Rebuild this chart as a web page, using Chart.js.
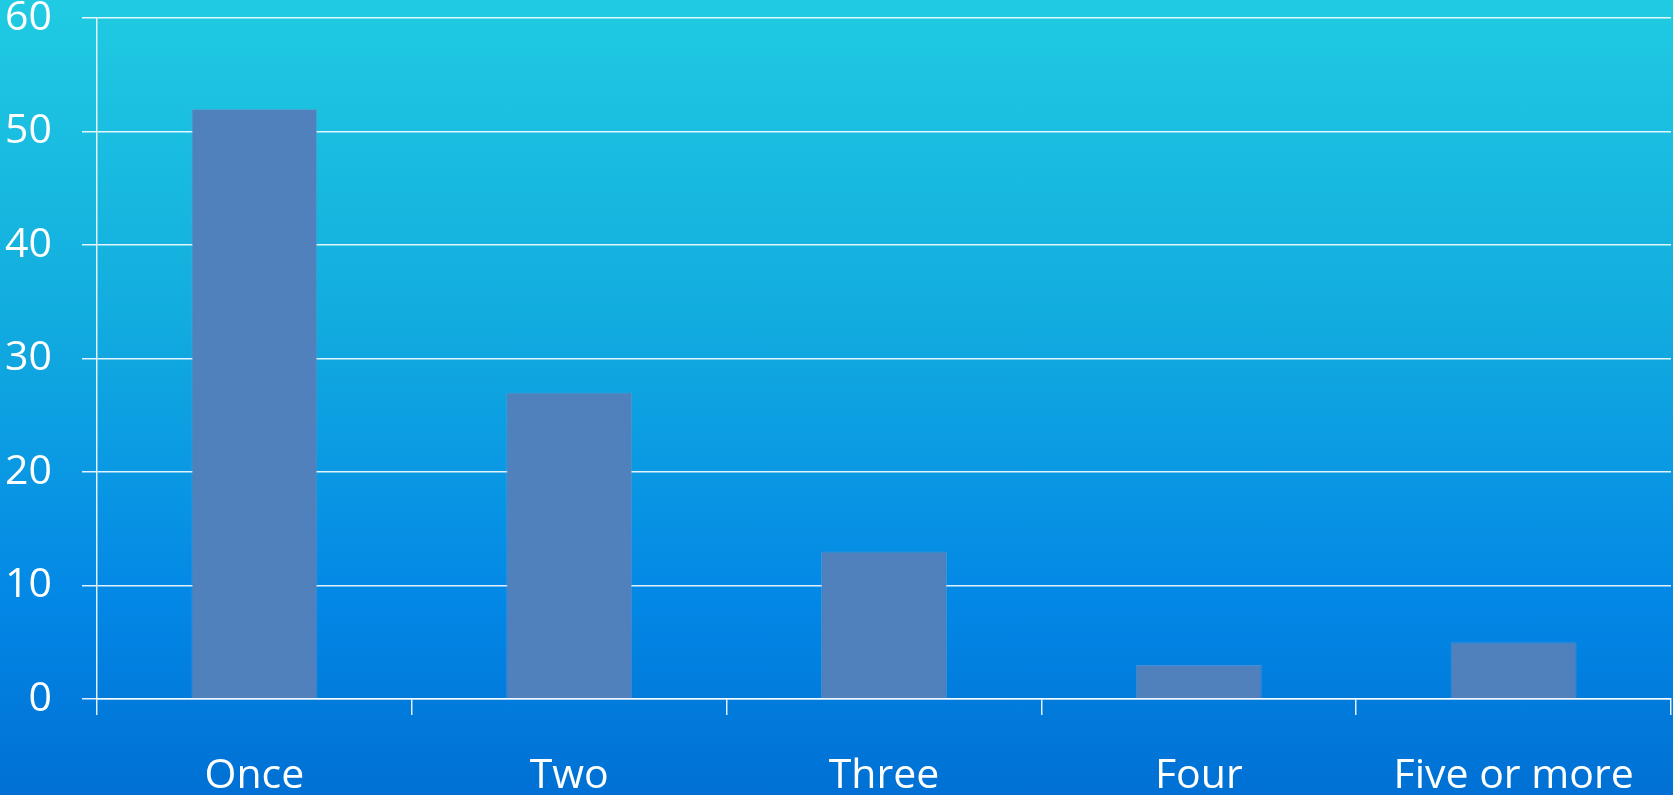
<!DOCTYPE html>
<html>
<head>
<meta charset="utf-8">
<script src="https://cdn.jsdelivr.net/npm/chart.js@4/dist/chart.umd.min.js"></script>
<style>
  html, body { margin: 0; padding: 0; }
  body { width: 1673px; height: 795px; overflow: hidden;
    background: linear-gradient(to bottom, #20cbe2 0%, #12acdf 40%, #0388e6 75%, #0070d4 100%); }
  #wrap { position: relative; width: 1673px; height: 795px; }
</style>
</head>
<body>
<div id="wrap"><canvas id="c" width="1673" height="795"></canvas></div>
<script>
const categories = ["Once", "Two", "Three", "Four", "Five or more"];
const values = [52, 27, 13, 3, 5];
const yTicks = [0, 10, 20, 30, 40, 50, 60];

const FONT = "'Open Sans', 'DejaVu Sans', sans-serif";
const gridCol = "rgba(255,255,255,0.88)";

new Chart(document.getElementById("c"), {
  type: "bar",
  data: {
    labels: categories,
    datasets: [{
      data: values,
      backgroundColor: "#5081bc",
      borderColor: "rgba(120,160,210,0.5)",
      borderWidth: 1,
      barPercentage: 0.8,
      categoryPercentage: 0.5
    }]
  },
  options: {
    responsive: false,
    animation: false,
    layout: { padding: { top: 18, right: 2, left: 0, bottom: 0 } },
    plugins: { legend: { display: false }, tooltip: { enabled: false } },
    scales: {
      x: {
        grid: { display: true, drawOnChartArea: false, color: gridCol, lineWidth: 1.5, tickLength: 16, offset: true },
        border: { color: gridCol, width: 1.5 },
        ticks: { color: "#ffffff", font: { family: FONT, size: 41 }, padding: 37, maxRotation: 0 },
        afterFit: (s) => { s.height = 96; s.paddingLeft = 0; s.paddingRight = 0; }
      },
      y: {
        min: 0, max: 60,
        afterBuildTicks: (s) => { s.ticks = yTicks.map(v => ({ value: v })); },
        grid: { color: gridCol, lineWidth: 1.5, tickLength: 15 },
        border: { color: gridCol, width: 1.5 },
        ticks: { color: "#ffffff", font: { family: FONT, size: 41 }, padding: 30 },
        afterFit: (s) => { s.width = 97; s.paddingTop = 0; s.paddingBottom = 0; }
      }
    }
  }
});
</script>
</body>
</html>
